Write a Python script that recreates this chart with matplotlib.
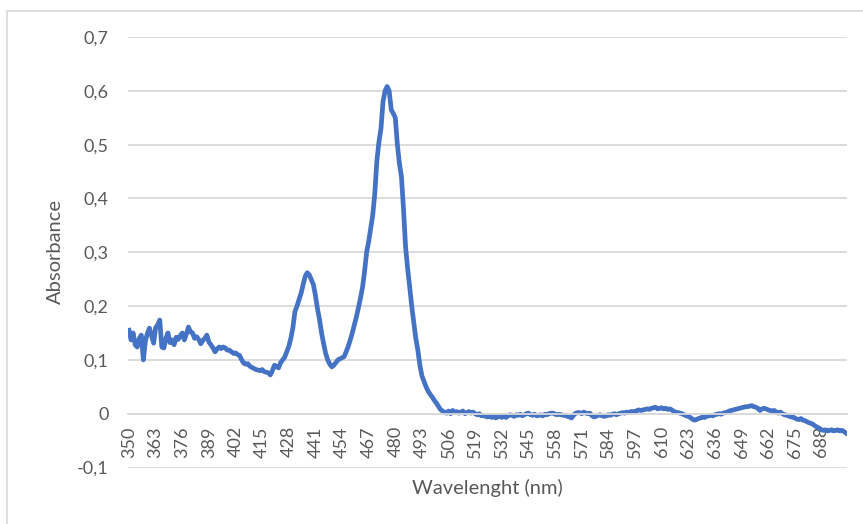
import numpy as np
import matplotlib
matplotlib.use("Agg")
import matplotlib.pyplot as plt
from matplotlib.ticker import FuncFormatter
from matplotlib.patches import Rectangle

plt.rcParams['font.family'] = ['Lato', 'DejaVu Sans']

# absorbance, 1 nm steps from 350 to 700 nm
start_nm = 350
absorbance = [
    0.155, 0.137, 0.150, 0.128, 0.124, 0.140, 0.146, 0.100, 0.135, 0.150,   # 350
    0.159, 0.145, 0.131, 0.160, 0.165, 0.174, 0.124, 0.122, 0.140, 0.150,   # 360
    0.132, 0.137, 0.128, 0.142, 0.138, 0.145, 0.150, 0.137, 0.148, 0.161,   # 370
    0.152, 0.150, 0.140, 0.143, 0.138, 0.130, 0.136, 0.140, 0.146, 0.133,   # 380
    0.128, 0.122, 0.115, 0.120, 0.124, 0.121, 0.124, 0.122, 0.118, 0.118,   # 390
    0.115, 0.112, 0.113, 0.110, 0.108, 0.100, 0.094, 0.092, 0.093, 0.088,   # 400
    0.086, 0.084, 0.082, 0.081, 0.080, 0.082, 0.078, 0.077, 0.076, 0.072,   # 410
    0.080, 0.090, 0.088, 0.085, 0.095, 0.100, 0.105, 0.115, 0.125, 0.140,   # 420
    0.160, 0.190, 0.200, 0.212, 0.224, 0.240, 0.255, 0.262, 0.258, 0.249,   # 430
    0.240, 0.220, 0.195, 0.175, 0.150, 0.130, 0.112, 0.100, 0.092, 0.087,   # 440
    0.090, 0.095, 0.100, 0.102, 0.104, 0.106, 0.115, 0.125, 0.137, 0.150,   # 450
    0.165, 0.180, 0.197, 0.215, 0.235, 0.265, 0.300, 0.320, 0.345, 0.370,   # 460
    0.410, 0.470, 0.505, 0.530, 0.580, 0.600, 0.608, 0.600, 0.565, 0.558,   # 470
    0.550, 0.500, 0.465, 0.440, 0.380, 0.310, 0.270, 0.236, 0.200, 0.170,   # 480
    0.140, 0.118, 0.090, 0.070, 0.060, 0.050, 0.042, 0.036, 0.031, 0.025,   # 490
    0.020, 0.014, 0.008, 0.005, 0.003, 0.001, 0.005, 0.000, 0.006, 0.002,   # 500
    0.004, 0.001, 0.003, 0.005, 0.000, 0.002, 0.004, 0.001, 0.003, 0.000,   # 510
    -0.002, 0.000, -0.004, -0.003, -0.005, -0.006, -0.004, -0.007, -0.005, -0.008,  # 520
    -0.006, -0.004, -0.007, -0.003, -0.007, -0.004, -0.002, -0.003, -0.005, -0.002,  # 530
    -0.003, -0.001, -0.004, -0.002, 0.000, 0.001, -0.002, -0.003, -0.001, -0.004,   # 540
    -0.003, -0.002, -0.004, -0.001, -0.002, 0.000, 0.001, 0.001, -0.001, -0.002,    # 550
    -0.001, -0.002, -0.003, -0.003, -0.005, -0.006, -0.008, -0.003, 0.001, 0.002,   # 560
    0.002, 0.000, 0.003, 0.001, 0.000, 0.001, -0.004, -0.006, -0.005, -0.003,       # 570
    -0.002, -0.004, -0.005, -0.004, -0.002, -0.003, -0.001, 0.000, -0.002, 0.000,   # 580
    0.001, 0.002, 0.001, 0.003, 0.002, 0.004, 0.004, 0.003, 0.006, 0.007,   # 590
    0.006, 0.007, 0.008, 0.009, 0.008, 0.010, 0.011, 0.012, 0.009, 0.010,   # 600
    0.011, 0.009, 0.010, 0.008, 0.009, 0.007, 0.004, 0.003, 0.002, 0.001,   # 610
    0.000, -0.002, -0.004, -0.005, -0.007, -0.010, -0.012, -0.011, -0.009, -0.008,  # 620
    -0.006, -0.007, -0.005, -0.004, -0.003, -0.004, -0.002, -0.001, 0.000, -0.001,  # 630
    0.001, 0.002, 0.003, 0.005, 0.006, 0.007, 0.008, 0.009, 0.010, 0.011,   # 640
    0.012, 0.013, 0.013, 0.014, 0.015, 0.013, 0.012, 0.010, 0.006, 0.009,   # 650
    0.010, 0.009, 0.007, 0.006, 0.005, 0.006, 0.003, 0.001, 0.003, 0.000,   # 660
    -0.002, -0.003, -0.004, -0.006, -0.006, -0.008, -0.010, -0.011, -0.009, -0.012,  # 670
    -0.013, -0.015, -0.017, -0.018, -0.020, -0.023, -0.025, -0.027, -0.030, -0.031,  # 680
    -0.030, -0.032, -0.031, -0.030, -0.032, -0.031, -0.030, -0.032, -0.031, -0.033,  # 690
    -0.036,                                                                  # 700
]
wavelength = np.arange(start_nm, start_nm + len(absorbance))

x_ticks = list(range(350, 701, 13))
y_ticks = [-0.1, 0, 0.1, 0.2, 0.3, 0.4, 0.5, 0.6, 0.7]

grey_text = '#595959'
grid_col = '#d9d9d9'

fig = plt.figure(figsize=(8.63, 5.24), dpi=100)
W, H = 863, 524
ax = fig.add_axes([128 / W, 1 - 467.5 / H, (847 - 128) / W, (467.5 - 37) / H])

# light frame around the chart area, like the Excel chart border
fig.patches.append(Rectangle((7 / W, -0.05), 1.2, 1 - 11 / H + 0.05,
                             transform=fig.transFigure, fill=False,
                             edgecolor=grid_col, lw=1.2))

ax.plot(wavelength, absorbance, color='#4472C4', lw=3.4, solid_joinstyle='round')

ax.set_xlim(349.5, 700.5)
ax.set_ylim(-0.1, 0.7)
ax.set_yticks(y_ticks)
ax.yaxis.set_major_formatter(FuncFormatter(
    lambda v, p: '0' if abs(v) < 1e-9 else f'{v:.1f}'.replace('.', ',')))
ax.set_xticks(x_ticks)
ax.set_xticklabels([str(t) for t in x_ticks])

ax.grid(axis='y', color=grid_col, lw=1.3)
ax.set_axisbelow(True)
for s in ['left', 'right', 'top']:
    ax.spines[s].set_visible(False)
ax.spines['bottom'].set_position(('data', 0))
ax.spines['bottom'].set_color(grid_col)
ax.spines['bottom'].set_linewidth(1.3)

ax.tick_params(axis='both', length=0, labelsize=13, labelcolor=grey_text)
ax.tick_params(axis='y', pad=14)
ax.tick_params(axis='x', pad=9, labelrotation=90)

fig.text(487.5 / W, 1 - 488 / H, 'Wavelenght (nm)', ha='center', va='center',
         fontsize=14.5, color=grey_text)
fig.text(55 / W, 1 - 252 / H, 'Absorbance', ha='center', va='center',
         rotation=90, fontsize=14.5, color=grey_text)

fig.savefig('out.png', dpi=100)
